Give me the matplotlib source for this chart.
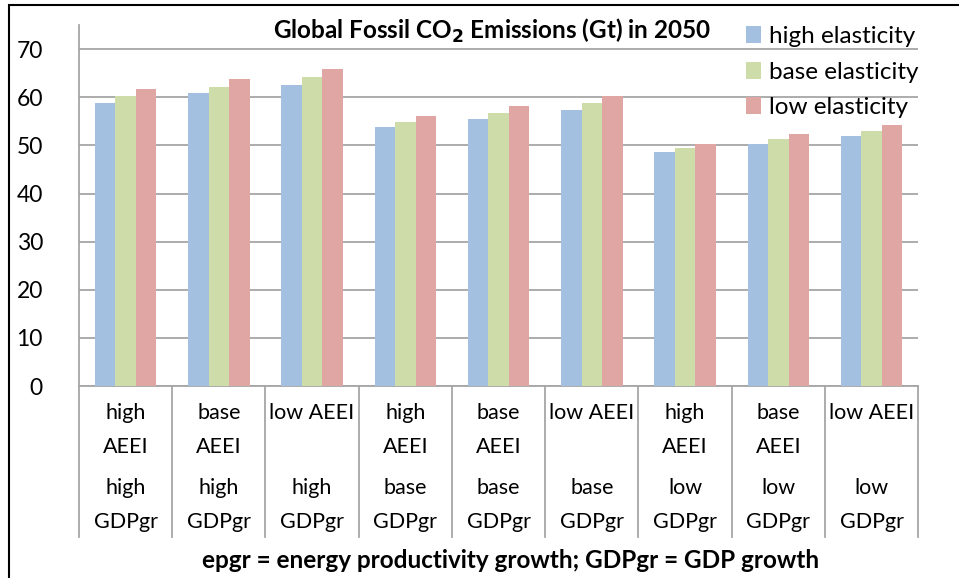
import matplotlib.pyplot as plt
import numpy as np
from matplotlib.patches import Rectangle

plt.rcParams['font.family'] = ['Lato', 'DejaVu Sans']

aeei = ["high\nAEEI", "base\nAEEI", "low AEEI"] * 3
gdp = ["high\nGDPgr"] * 3 + ["base\nGDPgr"] * 3 + ["low\nGDPgr"] * 3
series = ["high elasticity", "base elasticity", "low elasticity"]
high_el = [58.8, 60.8, 62.6, 53.8, 55.5, 57.4, 48.7, 50.3, 52.0]
base_el = [60.2, 62.2, 64.2, 54.9, 56.7, 58.8, 49.5, 51.4, 53.1]
low_el = [61.7, 63.9, 65.9, 56.1, 58.2, 60.2, 50.4, 52.3, 54.3]
colors = ["#a3c0e0", "#cddca9", "#e0a6a4"]

fig = plt.figure(figsize=(9.59, 5.78), dpi=100)
ax = fig.add_axes([0.0824, 0.332, 0.875, 0.6245])

x = np.arange(len(aeei))
w = 0.22
for i, (vals, lab) in enumerate(zip([high_el, base_el, low_el], series)):
    ax.bar(x + (i - 1) * w, vals, w, color=colors[i], label=lab, zorder=3)

ax.set_xlim(-0.5, len(aeei) - 0.5)
ax.set_ylim(0, 75)
ax.set_yticks(range(0, 71, 10))
ax.yaxis.grid(True, color="#a6a6a6", linewidth=1.3, zorder=0)
ax.tick_params(axis="y", length=0, labelsize=16.5, pad=26)
ax.set_xticks([])
for s in ["top", "right"]:
    ax.spines[s].set_visible(False)
for s in ["left", "bottom"]:
    ax.spines[s].set_color("#a6a6a6")
    ax.spines[s].set_linewidth(1.3)

# two-level category labels, one text per line
tr = ax.get_xaxis_transform()
dy = 0.0942
for xi, a, g in zip(x, aeei, gdp):
    for y0, lab in [(-0.0748, a), (-0.2825, g)]:
        for j, line in enumerate(lab.split("\n")):
            ax.text(xi, y0 - j * dy, line, transform=tr, ha="center",
                    va="center", fontsize=15.5)
for b in np.arange(-0.5, len(aeei), 1.0):
    ax.plot([b, b], [0, -0.418], transform=tr, color="#a6a6a6", lw=1.3,
            clip_on=False)

fig.text(0.513, 0.946, r"Global Fossil CO$_\mathbf{2}$ Emissions (Gt) in 2050",
         ha="center", va="center", fontsize=17.5, fontweight="bold", zorder=5)
fig.text(0.532, 0.031, "epgr = energy productivity growth; GDPgr = GDP growth",
         ha="center", va="center", fontsize=17.5, fontweight="bold")

ax.legend(loc="upper left", bbox_to_anchor=(0.775, 1.045), frameon=False,
          fontsize=17.5, handlelength=0.6, handleheight=0.7, handletextpad=0.35,
          labelspacing=0.6, borderpad=0.2)

fig.patches.append(Rectangle((9 / 959, -0.05), 1.2, 1.05 - 5 / 578,
                             transform=fig.transFigure, fill=False,
                             edgecolor="black", linewidth=1.5))

fig.savefig("out.png", dpi=100)
